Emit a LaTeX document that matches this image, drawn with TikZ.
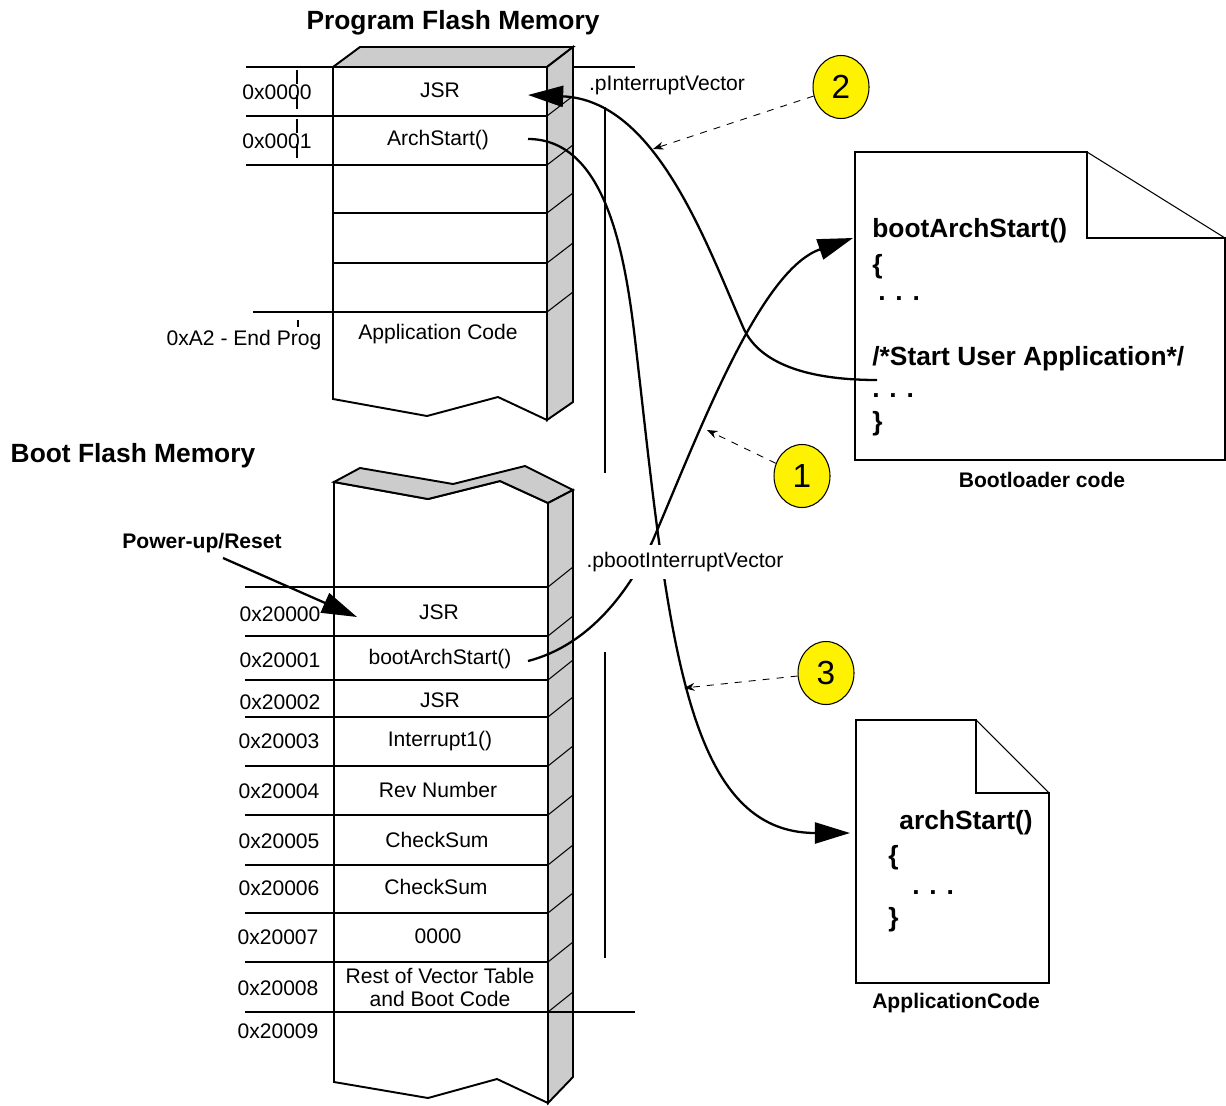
\documentclass[tikz,border=0pt]{standalone}
\usepackage{fontspec}
\setmainfont{Liberation Sans}
\usepackage{tikz}
\usetikzlibrary{shapes, calc, arrows.meta}

\tikzset{
	memline/.style={line width=1.1pt},
	edge/.style={line width=0.6pt},
	cell/.style={font=\fontsize{12}{13}\selectfont, inner sep=1pt, yshift=-1.2pt},
	addr/.style={font=\fontsize{12}{13}\selectfont, inner sep=1pt, yshift=-1.2pt},
	heading/.style={font=\bfseries\fontsize{15}{18}\selectfont, yshift=-1.5pt},
	codeline/.style={font=\bfseries\fontsize{15}{18}\selectfont, anchor=west, inner sep=0pt,
		yshift=-1.2pt},
	doclabel/.style={font=\bfseries\fontsize{12}{14}\selectfont, yshift=-1.2pt},
	badge/.style={ellipse, draw, line width=0.6pt, fill=yellow, minimum width=1.12cm,
		minimum height=1.26cm, inner sep=0pt, font=\fontsize{19}{22}\selectfont},
	pointer/.style={line width=0.5pt, dash pattern=on 4pt off 4pt,
		-{Stealth[length=6pt, width=4.5pt]}},
	flow/.style={line width=1.3pt, -{Triangle[length=20pt, width=12pt]}},
}

\begin{document}
\begin{tikzpicture}[x=0.02cm, y=-0.02cm]
	\useasboundingbox (0,0) rectangle (1226,1105);

	% program flash memory
	\draw[memline] (246,67) -- (635,67);
	\filldraw[memline, fill=white] (333,67) -- (547,67) -- (547,420) -- (498,397)
		-- (427,416) -- (333,399) -- cycle;
	\filldraw[memline, fill=gray!40] (333,67) -- (360,47) -- (573,47) -- (547,67) -- cycle;
	\filldraw[memline, fill=gray!40] (547,67) -- (573,47) -- (573,402) -- (547,420) -- cycle;
	\draw[memline] (246,116) -- (547,116) (246,165) -- (547,165)
		(333,213) -- (547,213) (333,263) -- (547,263) (253,312) -- (547,312);
	\draw[edge] (547,116) -- (573,96) (547,165) -- (573,145) (547,213) -- (573,193)
		(547,263) -- (573,243) (547,312) -- (573,292);
	\draw[memline] (605,107) -- (605,473);
	\draw[line width=0.9pt, dash pattern=on 8pt off 6pt] (297,70) -- (297,160);
	\draw[line width=0.9pt] (298,320) -- (298,327);

	\node[heading] (progtitle) at (453,20) {Program Flash Memory};
	\node[cell] (pjsr)  at (440,88)  {JSR};
	\node[cell] (parch) at (438,138) {ArchStart()};
	\node[cell] (papp)  at (438,332) {Application Code};
	\node[addr] (p0)  at (277,90)  {0x0000};
	\node[addr] (p1)  at (277,139) {0x0001};
	\node[addr] (pend) at (244,338) {0xA2 - End Prog};
	\node[addr] (pvec) at (667,83) {.pInterruptVector};

	% boot flash memory
	\filldraw[memline, fill=white] (334,482) -- (428,499) -- (500,481) -- (548,503)
		-- (548,1103) -- (497,1079) -- (428,1098) -- (334,1082) -- cycle;
	\filldraw[memline, fill=gray!40] (334,482) -- (360,468) -- (453,484) -- (525,466)
		-- (573,490) -- (548,503) -- (500,481) -- (428,499) -- cycle;
	\filldraw[memline, fill=gray!40] (548,503) -- (573,490) -- (573,1077) -- (548,1103) -- cycle;
	\draw[memline] (245,587) -- (548,587) (245,636) -- (548,636) (245,680) -- (548,680)
		(245,717) -- (548,717) (245,766) -- (548,766) (245,815) -- (548,815)
		(245,865) -- (548,865) (245,913) -- (548,913) (245,962) -- (548,962)
		(245,1012) -- (635,1012);
	\draw[edge] (548,587) -- (573,567) (548,636) -- (573,616) (548,680) -- (573,660)
		(548,717) -- (573,697) (548,766) -- (573,746) (548,815) -- (573,795)
		(548,865) -- (573,845) (548,913) -- (573,893) (548,962) -- (573,942)
		(548,1012) -- (573,992);
	\draw[memline] (605,652) -- (605,958);

	\node[heading] (boottitle) at (133,453) {Boot Flash Memory};
	\node[cell] (bjsr)  at (439,610) {JSR};
	\node[cell] (bboot) at (440,657) {bootArchStart()};
	\node[cell] (bjsr2) at (440,698) {JSR};
	\node[cell] (bint)  at (440,739) {Interrupt1()};
	\node[cell] (brev)  at (438,788) {Rev Number};
	\node[cell] (bsum1) at (437,838) {CheckSum};
	\node[cell] (bsum2) at (436,885) {CheckSum};
	\node[cell] (bzero) at (438,934) {0000};
	\node[cell, align=center] (brest) at (440,985) {Rest of Vector Table\\and Boot Code};
	\node[addr] (b0) at (280,612)  {0x20000};
	\node[addr] (b1) at (280,658)  {0x20001};
	\node[addr] (b2) at (280,700)  {0x20002};
	\node[addr] (b3) at (279,739)  {0x20003};
	\node[addr] (b4) at (279,789)  {0x20004};
	\node[addr] (b5) at (279,839)  {0x20005};
	\node[addr] (b6) at (279,886)  {0x20006};
	\node[addr] (b7) at (278,935)  {0x20007};
	\node[addr] (b8) at (278,986)  {0x20008};
	\node[addr] (b9) at (278,1029) {0x20009};
	\node[doclabel] (reset) at (202,541) {Power-up/Reset};

	% bootloader code
	\draw[memline] (1087,152) -- (855,152) -- (855,460) -- (1225,460) -- (1225,238)
		-- (1087,238) -- cycle;
	\draw[edge] (1087,152) -- (1225,238);
	\node[codeline] (bl1) at (872,229) {bootArchStart()};
	\node[codeline] (bl2) at (872,265) {\{};
	\node[codeline] (bl3) at (878,296) {. . .};
	\node[codeline] (bl4) at (872,357) {/*Start User Application*/};
	\node[codeline] (bl5) at (872,393) {. . .};
	\node[codeline] (bl6) at (872,422) {\}};
	\node[doclabel] (blcap) at (1042,478) {Bootloader code};

	% application code
	\draw[memline] (976,720) -- (856,720) -- (856,983) -- (1049,983) -- (1049,793)
		-- (976,793) -- cycle;
	\draw[edge] (976,720) -- (1049,793);
	\node[codeline] (ap1) at (899,821) {archStart()};
	\node[codeline] (ap2) at (888,856) {\{};
	\node[codeline] (ap3) at (912,890) {. . .};
	\node[codeline] (ap4) at (888,918) {\}};
	\node[doclabel] (apcap) at (956,1001) {ApplicationCode};

	% jumps
	\coordinate (resetfrom) at (223,558);
	\coordinate (resetto)   at (357,617);
	\coordinate (bootfrom)  at (528,661);
	\coordinate (bootto)    at (853,238);
	\coordinate (userfrom)  at (877,380);
	\coordinate (userto)    at (528,95);
	\coordinate (archfrom)  at (528,139);
	\coordinate (archto)    at (850,833);

	\draw[flow] (resetfrom) -- (resetto);
	\draw[flow] (bootfrom) .. controls (590,645) and (630,590) .. (653,540)
		.. controls (700,430) and (760,270) .. (bootto);
	\draw[flow] (userfrom) .. controls (800,380) and (757,360) .. (743,327)
		.. controls (705,240) and (655,100) .. (userto);
	\draw[flow] (archfrom) .. controls (620,139) and (630,300) .. (640,383)
		.. controls (670,650) and (690,833) .. (archto);

	\node[addr, fill=white, inner sep=4pt] (bvec) at (685,560) {.pbootInterruptVector};

	% steps
	\node[badge] (two)   at (841,87)  {2};
	\node[badge] (one)   at (802,476) {1};
	\node[badge] (three) at (826,673) {3};
	\coordinate (twoat)   at (653,149);
	\coordinate (oneat)   at (707,430);
	\coordinate (threeat) at (684,688);
	\draw[pointer] (two) -- (twoat);
	\draw[pointer] (one) -- (oneat);
	\draw[pointer] (three) -- (threeat);
\end{tikzpicture}
\end{document}
